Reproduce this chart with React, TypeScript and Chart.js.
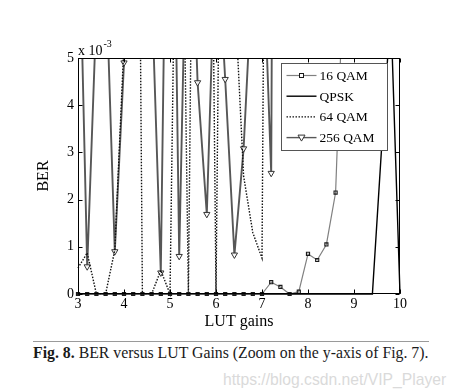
import React, { useEffect, useRef } from "react";
import { Chart, registerables } from "chart.js";

Chart.register(...registerables);

// LUT gain values (x axis)
const GAINS = [3.0, 3.2, 3.4, 3.6, 3.8, 4.0, 4.2, 4.4, 4.6, 4.8, 5.0, 5.2, 5.4, 5.6, 5.8, 6.0, 6.2, 6.4, 6.6, 6.8, 7.0, 7.2, 7.4, 7.6, 7.8, 8.0, 8.2, 8.4, 8.6, 8.8, 9.0, 9.2, 9.4, 9.6, 9.8, 10.0];

// BER values, in units of 1e-3 (axis shows "x 10^-3")
const QAM16 = [0, 0, 0, 0, 0, 0, 0, 0, 0, 0, 0, 0, 0, 0, 0, 0, 0, 0, 0, 0, 0, 0.25, 0.15, 0, 0.05, 0.85, 0.72, 1.05, 2.15, 7.5, 14, 22, 31, 42, 55, 68];
const QPSK = [0, 0, 0, 0, 0, 0, 0, 0, 0, 0, 0, 0, 0, 0, 0, 0, 0, 0, 0, 0, 0, 0, 0, 0, 0, 0, 0, 0, 0, 0, 0, 0, 0, 3.1, 6.0, 0];
const QAM64 = [0.55, 0.87, 0, 0, 0.93, 5.3, 25, 0, 0, 0.5, 0, 14, 0, 20, 20, 0, 20, 6.5, 2.5, 1.3, 0.76, 30, 35, 40, 45, 50, 55, 60, 65, 70, 75, 80, 85, 90, 95, 100];
const QAM256 = [9, 0.58, 6, 7, 0.9, 4.9, 12, 10, 6.5, 0.45, 15, 0.8, 10, 4.48, 1.69, 8, 4.55, 0.83, 3.08, 7, 8, 2.56, 45, 52, 60, 68, 75, 82, 90, 98, 105, 112, 120, 128, 135, 142];

const X_TICKS = [3, 4, 5, 6, 7, 8, 9, 10];
const Y_TICKS = [0, 1, 2, 3, 4, 5];

const SERIES_LABELS = ["16 QAM", "QPSK", "64 QAM", "256 QAM"];

const SERIF = "'Liberation Serif', 'Times New Roman', serif";

const pts = (arr: number[]) => GAINS.map((g, i) => ({ x: g, y: arr[i] }));

const framePlugin = {
  id: "matlabFrame",
  afterDatasetsDraw(chart: any) {
    const { ctx, chartArea: a, scales } = chart;
    const L = Math.round(a.left) + 0.5;
    const R = Math.round(a.right) - 0.5;
    const T = Math.round(a.top) + 0.5;
    const B = Math.round(a.bottom) - 0.5;
    ctx.save();
    ctx.strokeStyle = "#000";
    ctx.lineWidth = 1;
    ctx.strokeRect(L, T, R - L, B - T);
    const tl = 4;
    ctx.beginPath();
    X_TICKS.forEach((v) => {
      const x = Math.round(scales.x.getPixelForValue(v)) + 0.5;
      ctx.moveTo(x, B);
      ctx.lineTo(x, B - tl);
      ctx.moveTo(x, T);
      ctx.lineTo(x, T + tl);
    });
    Y_TICKS.forEach((v) => {
      const y = Math.round(scales.y.getPixelForValue(v)) + 0.5;
      ctx.moveTo(L, y);
      ctx.lineTo(L + tl, y);
      ctx.moveTo(R, y);
      ctx.lineTo(R - tl, y);
    });
    ctx.stroke();
    ctx.restore();
  },
  afterDraw(chart: any) {
    const { ctx, chartArea: a } = chart;
    ctx.save();
    // exponent label
    ctx.fillStyle = "#000";
    ctx.textBaseline = "alphabetic";
    ctx.textAlign = "left";
    ctx.font = `14px ${SERIF}`;
    const base = "x 10";
    ctx.fillText(base, a.left, a.top - 3);
    const w = ctx.measureText(base).width;
    ctx.font = `10px ${SERIF}`;
    ctx.fillText("-3", a.left + w + 1, a.top - 11);

    // legend box inside the axes (upper right)
    const bw = 106;
    const bh = 87;
    const bx = Math.round(a.right - 13.5 - bw) + 0.5;
    const by = Math.round(a.top + 5) + 0.5;
    ctx.fillStyle = "#fff";
    ctx.fillRect(bx, by, bw, bh);
    ctx.strokeStyle = "#555";
    ctx.lineWidth = 1;
    ctx.strokeRect(bx, by, bw, bh);

    const ds = chart.data.datasets;
    ds.forEach((d: any, i: number) => {
      const y = by + 12 + i * 20.7;
      const x0 = bx + 5;
      const x1 = bx + 35;
      ctx.save();
      ctx.strokeStyle = d.borderColor;
      ctx.lineWidth = Math.min(d.borderWidth, 1.4);
      ctx.setLineDash(d.borderDash || []);
      ctx.beginPath();
      ctx.moveTo(x0, y);
      ctx.lineTo(x1, y);
      ctx.stroke();
      ctx.setLineDash([]);
      const mx = (x0 + x1) / 2;
      if (d.pointStyle === "rect") {
        ctx.fillStyle = "#fff";
        ctx.strokeStyle = d.pointBorderColor;
        ctx.lineWidth = 1;
        ctx.fillRect(mx - 2, y - 2, 4, 4);
        ctx.strokeRect(mx - 2, y - 2, 4, 4);
      } else if (d.pointStyle === "triangle") {
        ctx.fillStyle = "#fff";
        ctx.strokeStyle = d.pointBorderColor;
        ctx.lineWidth = 1;
        ctx.beginPath();
        ctx.moveTo(mx - 3.5, y - 2.5);
        ctx.lineTo(mx + 3.5, y - 2.5);
        ctx.lineTo(mx, y + 3.5);
        ctx.closePath();
        ctx.fill();
        ctx.stroke();
      }
      ctx.restore();
      ctx.fillStyle = "#000";
      ctx.font = `13.5px ${SERIF}`;
      ctx.textBaseline = "middle";
      ctx.textAlign = "left";
      ctx.fillText(d.label, bx + 38, y + 1);
    });
    ctx.restore();
  },
};

export default function App() {
  const ref = useRef<HTMLCanvasElement | null>(null);

  useEffect(() => {
    if (!ref.current) return;
    const clip = { left: 5, top: 0, right: 5, bottom: 5 };
    const chart = new Chart(ref.current, {
      type: "line",
      data: {
        datasets: [
          {
            label: SERIES_LABELS[0],
            data: pts(QAM16),
            borderColor: "#808080",
            borderWidth: 1.2,
            pointStyle: "rect",
            pointRadius: 2.2,
            pointBackgroundColor: (c: any) =>
              c.raw && c.raw.y === 0 ? "#222" : "rgba(0,0,0,0)",
            pointBorderColor: "#1a1a1a",
            pointBorderWidth: 1.1,
            clip,
          },
          {
            label: SERIES_LABELS[1],
            data: pts(QPSK),
            borderColor: "#000",
            borderWidth: 1.4,
            pointRadius: 0,
            clip,
          },
          {
            label: SERIES_LABELS[2],
            data: pts(QAM64),
            borderColor: "#111",
            borderWidth: 1.4,
            borderDash: [1.5, 1.5],
            pointRadius: 0,
            clip,
          },
          {
            label: SERIES_LABELS[3],
            data: pts(QAM256),
            borderColor: "#575757",
            borderWidth: 1.9,
            pointStyle: "triangle",
            rotation: 180,
            pointRadius: 3.6,
            pointBackgroundColor: "rgba(255,255,255,0.9)",
            pointBorderColor: "#333",
            pointBorderWidth: 1,
            clip,
          },
        ] as any,
      },
      options: {
        animation: false,
        responsive: false,
        maintainAspectRatio: false,
        events: [],
        layout: { padding: { left: 34.4, top: 58, right: 59, bottom: 3.4 } },
        plugins: {
          legend: { display: false },
          tooltip: { enabled: false },
          title: { display: false },
        },
        elements: { line: { tension: 0 } },
        scales: {
          x: {
            type: "linear",
            min: 3,
            max: 10,
            grid: { display: false, drawTicks: false },
            border: { display: false },
            afterBuildTicks: (s: any) => {
              s.ticks = X_TICKS.map((v) => ({ value: v }));
            },
            afterFit: (s: any) => {
              s.height = 37.6;
            },
            ticks: {
              color: "#000",
              padding: 2,
              maxRotation: 0,
              autoSkip: false,
              font: { family: SERIF, size: 14 },
            },
            title: {
              display: true,
              text: "LUT gains",
              color: "#000",
              padding: 0,
              font: { family: SERIF, size: 16 },
            },
          },
          y: {
            type: "linear",
            min: 0,
            max: 5,
            grid: { display: false, drawTicks: false },
            border: { display: false },
            afterBuildTicks: (s: any) => {
              s.ticks = Y_TICKS.map((v) => ({ value: v }));
            },
            afterFit: (s: any) => {
              s.width = 43.6;
            },
            ticks: {
              color: "#000",
              padding: 4,
              autoSkip: false,
              font: { family: SERIF, size: 14 },
            },
            title: {
              display: true,
              text: "BER",
              color: "#000",
              padding: 0,
              font: { family: SERIF, size: 16 },
            },
          },
        },
      } as any,
      plugins: [framePlugin as any],
    });
    return () => chart.destroy();
  }, []);

  return (
    <div
      style={{
        position: "absolute",
        left: 0,
        top: 0,
        width: 459,
        height: 392,
        background: "#fff",
        overflow: "hidden",
      }}
    >
      <canvas
        ref={ref}
        width={459}
        height={335}
        style={{ position: "absolute", left: 0, top: 0, width: 459, height: 335, display: "block" }}
      />
      <div
        style={{
          position: "absolute",
          left: 33,
          top: 341,
          width: 396,
          height: 1,
          background: "#9a9a9a",
        }}
      />
      <div
        style={{
          position: "absolute",
          left: 33,
          top: 344,
          fontFamily: SERIF,
          fontSize: 15.8,
          lineHeight: "17px",
          color: "#1a1a1a",
          whiteSpace: "nowrap",
        }}
      >
        <b>Fig. 8.</b> BER versus LUT Gains (Zoom on the y-axis of Fig. 7).
      </div>
      <div
        style={{
          position: "absolute",
          left: 223,
          top: 371,
          fontFamily: "'Liberation Sans', Arial, sans-serif",
          fontSize: 15.7,
          lineHeight: "17px",
          color: "#dadada",
          whiteSpace: "nowrap",
        }}
      >
        https://blog.csdn.net/VIP_Player
      </div>
    </div>
  );
}
